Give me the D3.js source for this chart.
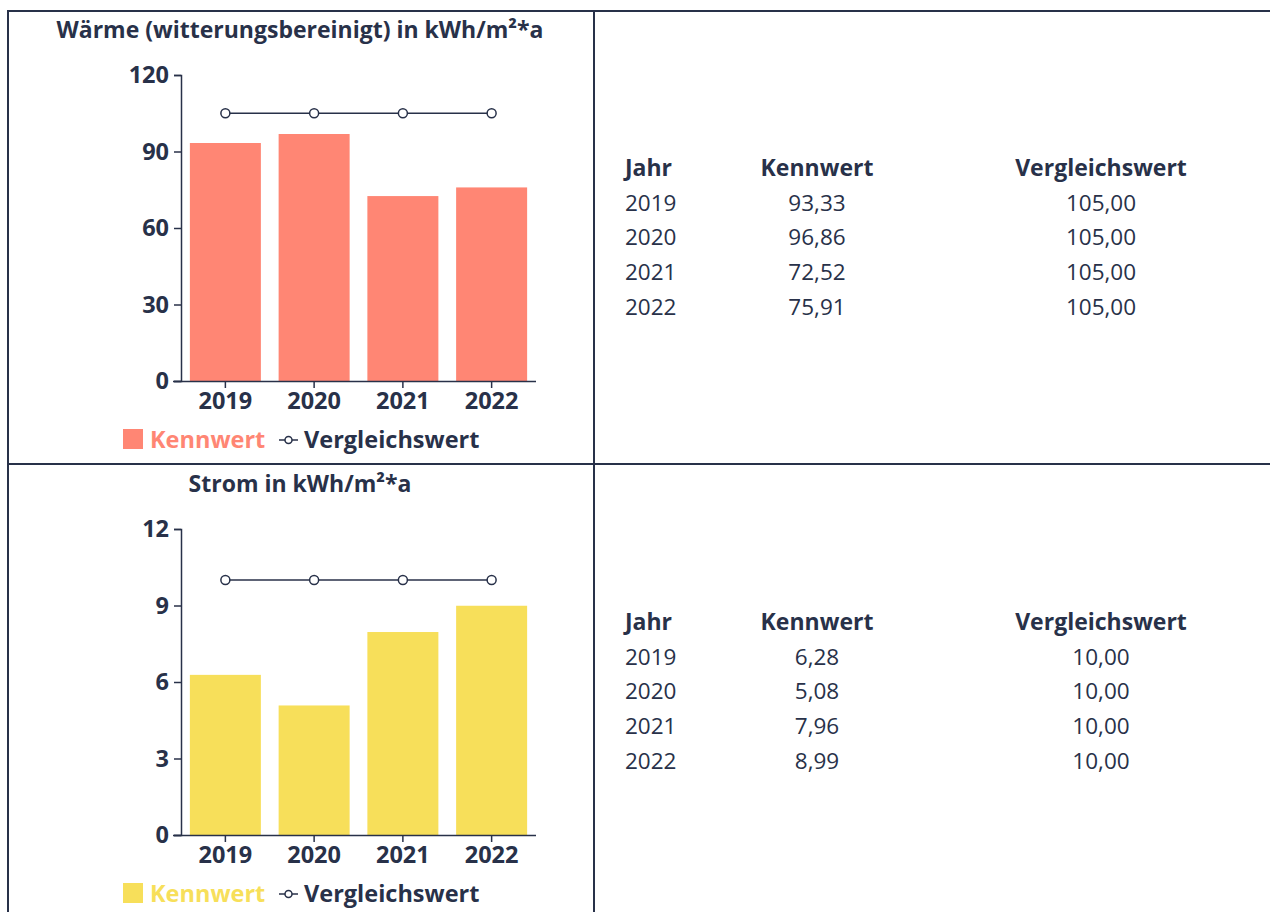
<!DOCTYPE html>
<html>
<head>
<meta charset="utf-8">
<script src="https://cdn.jsdelivr.net/npm/d3@7"></script>
<style>
  body { margin: 0; background: #fff; }
  svg text { font-family: "Open Sans", sans-serif; fill: #283149; }
</style>
</head>
<body>
<div id="page"></div>
<script>
// data
const years = ['2019', '2020', '2021', '2022'];
const waermeKennwert = [93.33, 96.86, 72.52, 75.91];
const waermeVergleich = [105, 105, 105, 105];
const stromKennwert = [6.28, 5.08, 7.96, 8.99];
const stromVergleich = [10, 10, 10, 10];
const waermeTicks = [0, 30, 60, 90, 120];
const stromTicks = [0, 3, 6, 9, 12];

const dark = '#283149';
const svg = d3.select('#page').append('svg')
  .attr('width', 1270)
  .attr('height', 912);

// grid of the table
const grid = svg.append('g').attr('stroke', dark).attr('stroke-width', 2);
grid.append('line').attr('x1', 7).attr('x2', 1270).attr('y1', 11).attr('y2', 11);
grid.append('line').attr('x1', 7).attr('x2', 1270).attr('y1', 464).attr('y2', 464);
grid.append('line').attr('x1', 8).attr('x2', 8).attr('y1', 10).attr('y2', 912);
grid.append('line').attr('x1', 594).attr('x2', 594).attr('y1', 10).attr('y2', 912);

const fmt = v => v.toFixed(2).replace('.', ',');

function drawChart (top, title, kennwert, vergleich, ticks, color) {
  const g = svg.append('g').attr('transform', 'translate(0,' + top + ')');
  const x = d3.scaleBand().domain(years).range([181, 536])
    .paddingInner(0.2).paddingOuter(0.1);
  const y = d3.scaleLinear().domain([0, ticks[ticks.length - 1]]).range([370, 64]);

  g.append('text')
    .attr('x', 300).attr('y', 27)
    .attr('text-anchor', 'middle')
    .attr('font-weight', 'bold')
    .attr('font-size', 23)
    .text(title);

  g.selectAll('rect.bar').data(kennwert).enter().append('rect')
    .attr('class', 'bar')
    .attr('x', (d, i) => x(years[i]))
    .attr('width', x.bandwidth())
    .attr('y', d => y(d))
    .attr('height', d => y(0) - y(d))
    .attr('fill', color);

  const yAxis = g.append('g')
    .attr('transform', 'translate(181,0)')
    .call(d3.axisLeft(y).tickValues(ticks).tickSize(7).tickPadding(5));
  yAxis.select('.domain').attr('stroke', dark).attr('stroke-width', 1.5);
  yAxis.selectAll('.tick line').attr('stroke', dark).attr('stroke-width', 1.5);
  yAxis.selectAll('.tick text')
    .attr('font-size', 23.5).attr('font-weight', 'bold')
    .attr('font-family', '"Open Sans", sans-serif').attr('fill', dark);

  const xAxis = g.append('g')
    .attr('transform', 'translate(0,' + y(0) + ')')
    .call(d3.axisBottom(x).tickSize(7).tickSizeOuter(0).tickPadding(4));
  xAxis.select('.domain').attr('d', 'M173,0.5H536').attr('stroke', dark).attr('stroke-width', 1.5);
  xAxis.selectAll('.tick line').attr('stroke', dark).attr('stroke-width', 1.5);
  xAxis.selectAll('.tick text')
    .attr('font-size', 23.5).attr('font-weight', 'bold')
    .attr('font-family', '"Open Sans", sans-serif').attr('fill', dark);

  const line = d3.line()
    .x((d, i) => x(years[i]) + x.bandwidth() / 2)
    .y(d => y(d));
  g.append('path').datum(vergleich)
    .attr('d', line)
    .attr('fill', 'none')
    .attr('stroke', dark)
    .attr('stroke-width', 1.5);
  g.selectAll('circle.pt').data(vergleich).enter().append('circle')
    .attr('class', 'pt')
    .attr('cx', (d, i) => x(years[i]) + x.bandwidth() / 2)
    .attr('cy', d => y(d))
    .attr('r', 4.5)
    .attr('fill', '#fff')
    .attr('stroke', dark)
    .attr('stroke-width', 1.5);

  // legend
  const lg = g.append('g').attr('transform', 'translate(0,' + 418 + ')');
  lg.append('rect').attr('x', 123).attr('y', 0).attr('width', 20).attr('height', 20).attr('fill', color);
  lg.append('text').attr('x', 150).attr('y', 18.5)
    .attr('font-size', 23.5).attr('font-weight', 'bold')
    .style('fill', color)
    .text('Kennwert');
  lg.append('line').attr('x1', 279).attr('x2', 298).attr('y1', 11).attr('y2', 11)
    .attr('stroke', dark).attr('stroke-width', 1.5);
  lg.append('circle').attr('cx', 288.5).attr('cy', 11).attr('r', 3.5)
    .attr('fill', '#fff').attr('stroke', dark).attr('stroke-width', 1.5);
  lg.append('text').attr('x', 304).attr('y', 18.5)
    .attr('font-size', 23.5).attr('font-weight', 'bold')
    .text('Vergleichswert');

  // table
  const tb = g.append('g');
  const cols = [
    { x: 625, anchor: 'start', head: 'Jahr' },
    { x: 817, anchor: 'middle', head: 'Kennwert' },
    { x: 1101, anchor: 'middle', head: 'Vergleichswert' }
  ];
  cols.forEach(c => {
    tb.append('text').attr('x', c.x).attr('y', 164.5)
      .attr('text-anchor', c.anchor)
      .attr('font-size', 23).attr('font-weight', 'bold')
      .text(c.head);
  });
  years.forEach((yr, i) => {
    const ty = 199.5 + i * 34.7;
    const vals = [yr, fmt(kennwert[i]), fmt(vergleich[i])];
    cols.forEach((c, j) => {
      tb.append('text').attr('x', c.x).attr('y', ty)
        .attr('text-anchor', c.anchor)
        .attr('font-size', 22.5)
        .text(vals[j]);
    });
  });
}

drawChart(11, 'Wärme (witterungsbereinigt) in kWh/m²*a', waermeKennwert, waermeVergleich, waermeTicks, '#ff8674');
drawChart(465, 'Strom in kWh/m²*a', stromKennwert, stromVergleich, stromTicks, '#f7df5a');
</script>
</body>
</html>
